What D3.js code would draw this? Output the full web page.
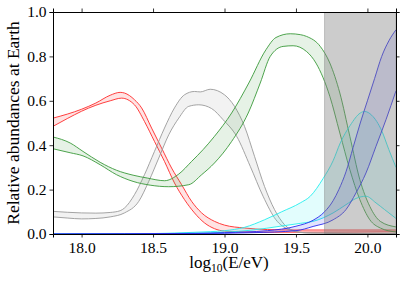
<html>
<head>
  <script src="https://d3js.org/d3.v7.min.js"></script>
  <style>
    body { margin: 0; background: white; }
  </style>
</head>
<body>
<script>

w = 407;
h = 282;
m = {left: 53, top: 12, right: 11, bottom: 48};
pw = w - m.left - m.right;
ph = h - m.top - m.bottom;
serif = "Liberation Serif, serif";

// each band: [log10 E, value] knots, upper and lower edge
redHi = [[17.8,0.522],[17.9,0.54],[18.0,0.562],[18.1,0.59],[18.2,0.625],[18.27,0.638],[18.3,0.635],[18.37,0.605],[18.42,0.568],[18.49,0.477],[18.56,0.387],[18.63,0.297],[18.7,0.222],[18.77,0.147],[18.84,0.095],[18.93,0.057],[19.0,0.04],[19.14,0.027],[19.3,0.02],[19.5,0.018],[19.8,0.018],[20.2,0.018]];
redLo = [[17.8,0.485],[17.9,0.52],[18.0,0.553],[18.1,0.58],[18.2,0.6],[18.28,0.612],[18.37,0.582],[18.44,0.507],[18.51,0.417],[18.58,0.327],[18.65,0.23],[18.72,0.155],[18.79,0.095],[18.86,0.05],[18.93,0.024],[19.0,0.013],[19.2,0.008],[19.5,0.008],[20.2,0.01]];

grayHi = [[17.8,0.102],[18.0,0.095],[18.1,0.094],[18.2,0.097],[18.27,0.105],[18.3,0.117],[18.37,0.177],[18.44,0.267],[18.51,0.372],[18.58,0.477],[18.65,0.568],[18.72,0.627],[18.79,0.642],[18.83,0.64],[18.9,0.652],[19.0,0.627],[19.07,0.575],[19.14,0.485],[19.21,0.35],[19.28,0.214],[19.35,0.11],[19.42,0.042],[19.5,0.012],[19.6,0.004],[20.2,0.002]];
grayLo = [[17.8,0.077],[17.9,0.072],[18.0,0.068],[18.1,0.07],[18.2,0.077],[18.3,0.095],[18.4,0.147],[18.47,0.237],[18.54,0.342],[18.61,0.447],[18.68,0.522],[18.75,0.575],[18.82,0.582],[18.91,0.565],[18.99,0.515],[19.085,0.44],[19.18,0.305],[19.27,0.17],[19.36,0.064],[19.45,0.02],[19.55,0.006],[20.2,0.001]];

greenHi = [[17.8,0.437],[17.92,0.41],[18.01,0.372],[18.13,0.323],[18.245,0.287],[18.36,0.265],[18.46,0.252],[18.58,0.24],[18.68,0.27],[18.77,0.327],[18.85,0.38],[18.93,0.44],[19.05,0.545],[19.17,0.68],[19.29,0.83],[19.36,0.885],[19.46,0.902],[19.53,0.898],[19.574,0.89],[19.67,0.845],[19.737,0.77],[19.807,0.635],[19.877,0.44],[19.947,0.245],[20.017,0.124],[20.09,0.057],[20.2,0.032]];
greenLo = [[17.8,0.384],[17.92,0.366],[18.01,0.352],[18.13,0.312],[18.245,0.267],[18.36,0.237],[18.48,0.22],[18.61,0.213],[18.75,0.222],[18.84,0.267],[18.93,0.32],[19.05,0.417],[19.166,0.545],[19.25,0.68],[19.32,0.8],[19.41,0.845],[19.48,0.848],[19.574,0.822],[19.64,0.77],[19.737,0.62],[19.807,0.455],[19.877,0.29],[19.947,0.155],[20.017,0.064],[20.09,0.027],[20.2,0.009]];

cyanHi = [[17.8,0.0],[18.5,0.002],[18.8,0.008],[19.0,0.015],[19.14,0.03],[19.28,0.064],[19.4,0.1],[19.53,0.14],[19.6,0.17],[19.69,0.25],[19.76,0.33],[19.81,0.41],[19.88,0.49],[19.95,0.545],[19.98,0.552],[20.03,0.535],[20.1,0.465],[20.15,0.38],[20.2,0.3]];
cyanLo = [[17.8,0.0],[18.8,0.003],[19.0,0.008],[19.2,0.018],[19.39,0.035],[19.53,0.048],[19.62,0.057],[19.76,0.095],[19.85,0.132],[19.92,0.16],[19.99,0.17],[20.06,0.14],[20.12,0.11],[20.2,0.07]];

blueHi = [[17.8,0.0],[18.8,0.003],[19.0,0.006],[19.3,0.015],[19.5,0.035],[19.62,0.062],[19.7,0.1],[19.76,0.15],[19.8,0.2],[19.85,0.28],[19.9,0.39],[19.95,0.5],[20.0,0.6],[20.05,0.7],[20.1,0.8],[20.15,0.87],[20.2,0.92]];
blueLo = [[17.8,0.0],[18.8,0.002],[19.2,0.006],[19.5,0.015],[19.62,0.034],[19.76,0.064],[19.85,0.11],[19.92,0.185],[19.99,0.275],[20.06,0.395],[20.13,0.515],[20.2,0.645]];

bands = [
  {color: "#ff2a2a", hi: redHi,   lo: redLo},
  {color: "#9a9a9a", hi: grayHi,  lo: grayLo},
  {color: "#3a9a3a", hi: greenHi, lo: greenLo},
  {color: "#22eeee", hi: cyanHi,  lo: cyanLo},
  {color: "#2a2aee", hi: blueHi,  lo: blueLo}
];

xTicks = [18.0, 18.5, 19.0, 19.5, 20.0];
yTicks = [0.0, 0.2, 0.4, 0.6, 0.8, 1.0];
shadeFrom = 19.7;

x = d3.scaleLinear().domain([17.8, 20.2]).range([0, pw]);
y = d3.scaleLinear().domain([0, 1]).range([ph, 0]);

svg = d3.select("body").append("svg")
  .attr("width", w)
  .attr("height", h);

g = svg.append("g").attr("transform", "translate(" + m.left + "," + m.top + ")");

svg.append("defs").append("clipPath").attr("id", "clip")
  .append("rect").attr("width", pw).attr("height", ph);

plot = g.append("g").attr("clip-path", "url(#clip)");

line = d3.line()
  .x(d => x(d[0]))
  .y(d => y(d[1]))
  .curve(d3.curveMonotoneX);

bands.forEach(function(b) {
  // upper edge left->right, then lower edge back right->left
  plot.append("path")
    .attr("d", line(b.hi) + "L" + line(b.lo.slice().reverse()).slice(1) + "Z")
    .attr("fill", b.color)
    .attr("fill-opacity", 0.13)
    .attr("stroke", "none");
  [b.hi, b.lo].forEach(function(edge) {
    plot.append("path")
      .attr("d", line(edge))
      .attr("fill", "none")
      .attr("stroke", b.color)
      .attr("stroke-width", 0.9);
  });
});

plot.append("rect")
  .attr("x", x(shadeFrom))
  .attr("y", 0)
  .attr("width", x(20.2) - x(shadeFrom))
  .attr("height", ph)
  .attr("fill", "gray")
  .attr("fill-opacity", 0.4)
  .attr("stroke", "gray")
  .attr("stroke-opacity", 0.4);

fmt = d3.format(".1f");

g.append("g").attr("transform", "translate(0," + ph + ")")
  .call(d3.axisBottom(x).tickValues(xTicks).tickFormat(fmt).tickSize(3.5).tickPadding(4));
g.append("g")
  .call(d3.axisTop(x).tickValues(xTicks).tickFormat("").tickSize(3.5));
g.append("g")
  .call(d3.axisLeft(y).tickValues(yTicks).tickFormat(fmt).tickSize(3.5).tickPadding(3));
g.append("g").attr("transform", "translate(" + pw + ",0)")
  .call(d3.axisRight(y).tickValues(yTicks).tickFormat("").tickSize(3.5));

g.selectAll(".domain").attr("stroke", "black").attr("stroke-width", 1);
g.selectAll(".tick line").attr("stroke", "black").attr("stroke-width", 0.8);
g.selectAll(".tick text")
  .attr("font-family", serif)
  .attr("font-size", 15.5)
  .attr("fill", "black");

xl = svg.append("text")
  .attr("x", 229)
  .attr("y", 268)
  .attr("text-anchor", "middle")
  .attr("font-family", serif)
  .attr("font-size", 17);
xl.append("tspan").text("log");
xl.append("tspan").attr("font-size", 11.5).attr("dy", 3.5).text("10");
xl.append("tspan").attr("dy", -3.5).text("(E/eV)");

svg.append("text")
  .attr("transform", "translate(19," + (m.top + ph / 2) + ") rotate(-90)")
  .attr("text-anchor", "middle")
  .attr("font-family", serif)
  .attr("font-size", 17.5)
  .text("Relative abundances at Earth");

</script>
</body>
</html>
